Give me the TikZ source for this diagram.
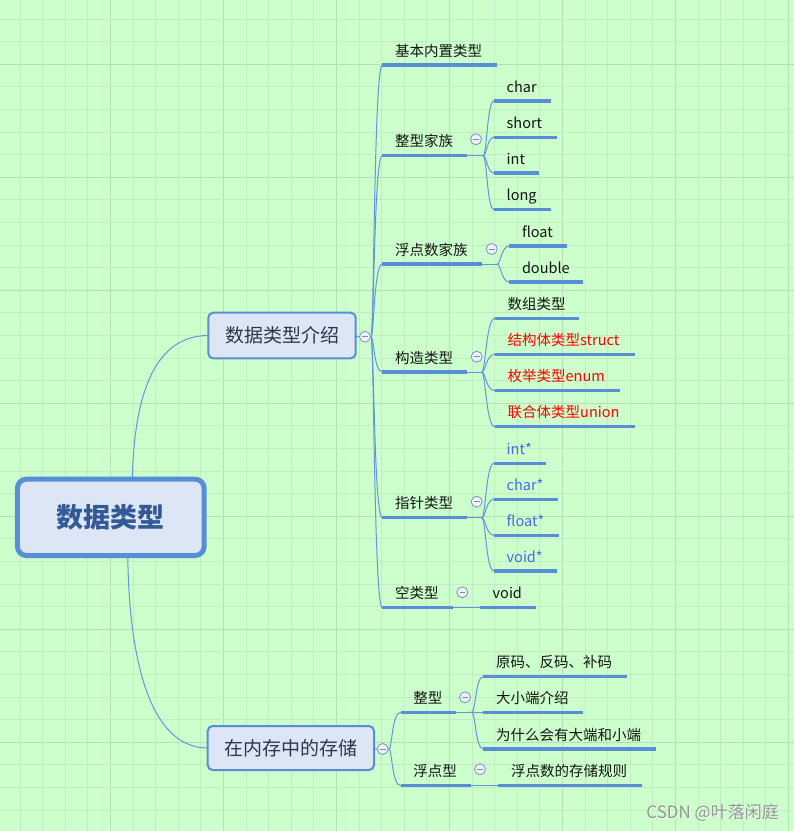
\documentclass[tikz,border=0pt]{standalone}
\usepackage{fontspec}
\setmainfont{Noto Sans CJK SC}
\usetikzlibrary{calc}

\definecolor{bg}{RGB}{204,255,204}
\definecolor{gridminor}{RGB}{193,238,193}
\definecolor{gridmajor}{RGB}{181,224,181}
\definecolor{ulblue}{RGB}{88,142,214}
\definecolor{lnblue}{RGB}{100,150,220}
\definecolor{boxfill}{RGB}{220,230,244}
\definecolor{rootblue}{RGB}{52,90,150}
\definecolor{lvonetext}{RGB}{45,55,75}
\definecolor{ptrblue}{RGB}{70,105,230}
\definecolor{circfill}{RGB}{236,241,250}
\definecolor{circdraw}{RGB}{125,155,205}

\newcommand\mytopic[6]{%
  \coordinate (#1s) at (#2,#4);
  \coordinate (#1e) at (#3,#4);
  \draw[uline] (#1s) -- (#1e);
  \node[lbl,#5] (#1) at (#2+12.5,#4-9) {#6};
}
\newcommand\mybranch[4]{%
  \draw[conn] (#1) .. controls +(#3,0) and +(#4,0) .. (#2);
}

\begin{document}
\begin{tikzpicture}[x=1pt,y=-1pt,
  uline/.style={line width=3.2pt, draw=ulblue},
  conn/.style={line width=1pt, draw=lnblue},
  lbl/.style={anchor=base west, inner sep=0pt, font=\fontsize{14.5}{17}\selectfont, text=black!92},
  ptr/.style={text=ptrblue},
  redtxt/.style={text=red},
  lvbox/.style={draw=ulblue, line width=2pt, fill=boxfill, rounded corners=5pt,
    inner sep=0pt, font=\fontsize{19}{22}\selectfont, text=lvonetext},
  rootbox/.style={draw=ulblue, line width=5pt, fill=boxfill, rounded corners=9pt,
    minimum width=186.7pt, minimum height=76.3pt, inner sep=0pt,
    font=\fontsize{27}{30}\selectfont\bfseries, text=rootblue},
  collapse/.style={circle, draw=circdraw, fill=circfill, line width=0.9pt,
    minimum size=11pt, inner sep=0pt,
    path picture={\draw[black!45, line width=0.9pt]
      ([xshift=-2.8pt]path picture bounding box.center) --
      ([xshift=2.8pt]path picture bounding box.center);}}
]
\useasboundingbox (0,0) rectangle (794,831);
\fill[bg] (0,0) rectangle (794,831);

% grid
\foreach \k in {0,...,34}{%
  \pgfmathtruncatemacro\mm{mod(\k,5)}%
  \ifnum\mm=4
    \draw[gridmajor, line width=1.1pt] (20+22.6*\k,0) -- (20+22.6*\k,831);
  \else
    \draw[gridminor, line width=1pt] (20+22.6*\k,0) -- (20+22.6*\k,831);
  \fi
}
\foreach \k in {0,...,35}{%
  \pgfmathtruncatemacro\mm{mod(\k,5)}%
  \ifnum\mm=2
    \draw[gridmajor, line width=1.1pt] (0,19+22.6*\k) -- (794,19+22.6*\k);
  \else
    \draw[gridminor, line width=1pt] (0,19+22.6*\k) -- (794,19+22.6*\k);
  \fi
}

% anchor points
\coordinate (rootT) at (132.3,479);
\coordinate (rootB) at (127.8,556);
\coordinate (box1W) at (208.3,335.5);
\coordinate (box2W) at (207.7,748);
\coordinate (box1pos) at (282,335.5);
\coordinate (box2pos) at (290.85,748);

% hubs
\coordinate (h1) at (371,336.7);
\coordinate (hm) at (389,749);
\coordinate (h2) at (483,155.7);
\coordinate (h3) at (497,264);
\coordinate (h4) at (481.7,372);
\coordinate (h5) at (481.7,517.7);
\coordinate (hm1) at (471.7,712.3);

% topics level 2
\mytopic{t1}{382.3}{496.7}{65}{}{基本内置类型}
\mytopic{t2}{382.3}{466.7}{155.7}{}{整型家族}
\mytopic{t3}{382.3}{481.7}{264}{}{浮点数家族}
\mytopic{t4}{382.3}{466.7}{372}{}{构造类型}
\mytopic{t5}{382.3}{466.7}{517.7}{}{指针类型}
\mytopic{t6}{382.3}{452.7}{607.7}{}{空类型}
% level 3
\mytopic{t21}{494}{551}{101}{}{char}
\mytopic{t22}{494}{557}{137.3}{}{short}
\mytopic{t23}{494}{539}{173}{}{int}
\mytopic{t24}{494}{551}{209.5}{}{long}
\mytopic{t31}{509.3}{566.7}{246}{}{float}
\mytopic{t32}{509.3}{583.3}{282}{}{double}
\mytopic{t41}{495}{579}{318.3}{}{数组类型}
\mytopic{t42}{495}{635}{354.3}{redtxt}{结构体类型struct}
\mytopic{t43}{495}{620}{390.7}{redtxt}{枚举类型enum}
\mytopic{t44}{495}{635}{426.7}{redtxt}{联合体类型union}
\mytopic{t51}{494}{545.7}{463.3}{ptr}{int*}
\mytopic{t52}{494}{558}{499.3}{ptr}{char*}
\mytopic{t53}{494}{559}{535.3}{ptr}{float*}
\mytopic{t54}{494}{557}{571}{ptr}{void*}
\mytopic{t61}{480}{535.7}{607.7}{}{void}
% second branch
\mytopic{m1}{400.7}{456}{712.3}{}{整型}
\mytopic{m2}{400.7}{470.7}{785.7}{}{浮点型}
\mytopic{m11}{483.3}{626.7}{676.7}{}{原码、反码、补码}
\mytopic{m12}{483.3}{582.7}{712.7}{}{大小端介绍}
\mytopic{m13}{483.3}{656}{749}{}{为什么会有大端和小端}
\mytopic{m21}{498.3}{641.7}{785.7}{}{浮点数的存储规则}

% connectors
\draw[conn] (rootT) .. controls (134,405) and (150,335.5) .. (box1W);
\draw[conn] (rootB) .. controls (129,660) and (150,748) .. (box2W);
\draw[conn] (box1pos) -- (h1);
\draw[conn] (box2pos) -- (hm);

\foreach \t in {t1,t2,t3,t4,t5,t6}{\mybranch{h1}{\t s}{3}{-8.3}}
\foreach \t in {m1,m2}{\mybranch{hm}{\t s}{3}{-8.7}}

\draw[conn] (t2e) -- (h2);
\foreach \t in {t21,t22,t23,t24}{\mybranch{h2}{\t s}{4}{-7}}
\draw[conn] (t3e) -- (h3);
\foreach \t in {t31,t32}{\mybranch{h3}{\t s}{4}{-8}}
\draw[conn] (t4e) -- (h4);
\foreach \t in {t41,t42,t43,t44}{\mybranch{h4}{\t s}{4}{-9}}
\draw[conn] (t5e) -- (h5);
\foreach \t in {t51,t52,t53,t54}{\mybranch{h5}{\t s}{4}{-8}}
\draw[conn] (t6e) -- (t61s);
\draw[conn] (m1e) -- (hm1);
\foreach \t in {m11,m12,m13}{\mybranch{hm1}{\t s}{4}{-8}}
\draw[conn] (m2e) -- (m21s);

% boxes
\node[rootbox] (root) at (110.8,517.35) {数据类型};
\node[lvbox, minimum width=147.4pt, minimum height=45.6pt] (box1) at (box1pos) {数据类型介绍};
\node[lvbox, minimum width=166.3pt, minimum height=44pt] (box2) at (box2pos) {在内存中的存储};

% collapse circles
\node[collapse] (c1) at (365,336.7) {};
\node[collapse] (c2) at (382.7,749) {};
\node[collapse] (ct2) at (476,139.3) {};
\node[collapse] (ct3) at (491.7,249) {};
\node[collapse] (ct4) at (476.7,356.7) {};
\node[collapse] (ct5) at (476.7,501.7) {};
\node[collapse] (ct6) at (462.3,592.3) {};
\node[collapse] (cm1) at (465,697.3) {};
\node[collapse] (cm2) at (480,769.3) {};

% watermark
\node[anchor=east, inner sep=0pt, font=\fontsize{17}{20}\selectfont, text=white!70!bg] (wmshadow) at (779.8,813.8) {CSDN @叶落闲庭};
\node[anchor=east, inner sep=0pt, font=\fontsize{17}{20}\selectfont, text=black!42] (wm) at (779,813) {CSDN @叶落闲庭};
\end{tikzpicture}
\end{document}
